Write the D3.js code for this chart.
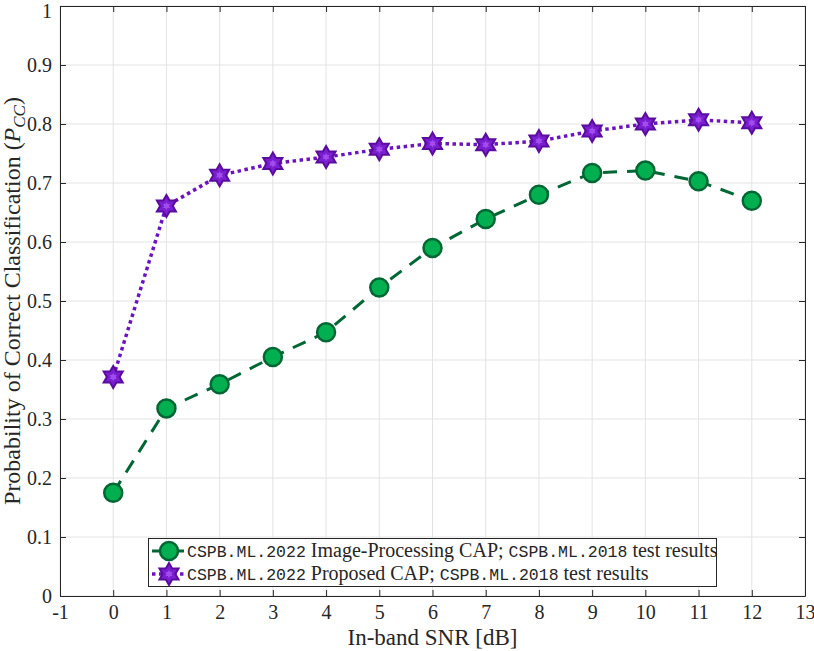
<!DOCTYPE html>
<html><head><meta charset="utf-8">
<script src="https://cdn.jsdelivr.net/npm/d3@7"></script>
<style>body{margin:0;background:#fff}</style>
</head><body>
<svg id="c" width="814" height="651"></svg>
<script>
const snr = [0,1,2,3,4,5,6,7,8,9,10,11,12];
const imageProc = [0.175,0.318,0.359,0.405,0.447,0.523,0.590,0.639,0.680,0.717,0.721,0.703,0.670];
const proposed = [0.371,0.661,0.713,0.733,0.744,0.757,0.767,0.765,0.771,0.788,0.800,0.807,0.802];
const xTicks = [-1,0,1,2,3,4,5,6,7,8,9,10,11,12,13];
const yTicks = [0,0.1,0.2,0.3,0.4,0.5,0.6,0.7,0.8,0.9,1];
const legendLabels = [
  [["CSPB.ML.2022","m"],[" Image-Processing CAP; ","s"],["CSPB.ML.2018","m"],[" test results","s"]],
  [["CSPB.ML.2022","m"],[" Proposed CAP; ","s"],["CSPB.ML.2018","m"],[" test results","s"]]
];

const svg = d3.select("#c");
const L=60, R=805, T=6, B=596;
const x = d3.scaleLinear().domain([-1,13]).range([L,R]);
const y = d3.scaleLinear().domain([0,1]).range([B,T]);
const serif = "'Liberation Serif','DejaVu Serif',serif";
const mono = "'Liberation Mono','DejaVu Sans Mono',monospace";

// grid
svg.append("g").selectAll("line").data(xTicks).join("line")
  .attr("x1",d=>x(d)).attr("x2",d=>x(d)).attr("y1",T).attr("y2",B)
  .attr("stroke","#e3e3e3").attr("stroke-width",1);
svg.append("g").selectAll("line").data(yTicks).join("line")
  .attr("y1",d=>y(d)).attr("y2",d=>y(d)).attr("x1",L).attr("x2",R)
  .attr("stroke","#e3e3e3").attr("stroke-width",1);

// axes
const ax = svg.append("g").attr("transform",`translate(0,${B})`)
  .call(d3.axisBottom(x).tickValues(xTicks).tickSizeInner(-6).tickSizeOuter(0).tickPadding(9).tickFormat(d=>String(d)));
const axT = svg.append("g").attr("transform",`translate(0,${T})`)
  .call(d3.axisTop(x).tickValues(xTicks).tickSizeInner(-6).tickSizeOuter(0).tickFormat(""));
const ay = svg.append("g").attr("transform",`translate(${L},0)`)
  .call(d3.axisLeft(y).tickValues(yTicks).tickSizeInner(-6).tickSizeOuter(0).tickPadding(8).tickFormat(d=>d===0||d===1?String(d):d3.format(".1f")(d)));
const ayR = svg.append("g").attr("transform",`translate(${R},0)`)
  .call(d3.axisRight(y).tickValues(yTicks).tickSizeInner(-6).tickSizeOuter(0).tickFormat(""));
[ax,axT,ay,ayR].forEach(g=>{
  g.selectAll("path").attr("stroke","#262626").attr("stroke-width",1);
  g.selectAll("line").attr("stroke","#262626");
  g.selectAll("text").attr("font-family",serif).attr("font-size",20).attr("fill","#262626");
});
ay.selectAll("text").filter(d=>d===1).attr("dy","0.55em");

// lines
const gLine = d3.line().x((d,i)=>x(snr[i])).y(d=>y(d));
svg.append("path").attr("d",gLine(imageProc)).attr("fill","none")
  .attr("stroke","#006633").attr("stroke-width",3).attr("stroke-dasharray","14,10");
svg.append("path").attr("d",gLine(proposed)).attr("fill","none")
  .attr("stroke","#6a14c0").attr("stroke-width",3.5).attr("stroke-dasharray","3.5,3.5");

// markers
const star = d3.symbol().type({draw(ctx,size){
  const r = Math.sqrt(size);
  const ri = r/Math.sqrt(3);
  for(let k=0;k<12;k++){
    const a = -Math.PI/2 + k*Math.PI/6;
    const rr = k%2===0? r: ri;
    const px = rr*Math.cos(a), py = rr*Math.sin(a);
    k===0?ctx.moveTo(px,py):ctx.lineTo(px,py);
  }
  ctx.closePath();
}});
function drawStar(g, cx, cy){
  g.append("path").attr("d",star.size(121)()).attr("transform",`translate(${cx},${cy})`)
    .attr("fill","#7a1fd0").attr("stroke","#5a0c9e").attr("stroke-width",2);
  g.append("path").attr("d",star.size(16)()).attr("transform",`translate(${cx},${cy})`)
    .attr("fill","#a24cf0").attr("stroke","none");
}
function drawCircle(g,cx,cy){
  g.append("circle").attr("cx",cx).attr("cy",cy).attr("r",9)
    .attr("fill","#00b050").attr("stroke","#006633").attr("stroke-width",2.5);
}
const gm = svg.append("g");
imageProc.forEach((v,i)=>drawCircle(gm,x(snr[i]),y(v)));
proposed.forEach((v,i)=>drawStar(gm,x(snr[i]),y(v)));

// labels
svg.append("text").attr("x",(L+R)/2).attr("y",645).attr("text-anchor","middle")
  .attr("font-family",serif).attr("font-size",23).attr("fill","#262626").text("In-band SNR [dB]");
const yl = svg.append("text").attr("transform",`translate(20,${(T+B)/2}) rotate(-90)`)
  .attr("text-anchor","middle").attr("font-family",serif).attr("font-size",24).attr("fill","#262626");
yl.append("tspan").text("Probability of Correct Classification (");
yl.append("tspan").attr("font-style","italic").text("P");
yl.append("tspan").attr("font-style","italic").attr("font-size",17).attr("dy",5).text("CC");
yl.append("tspan").attr("dy",-5).text(")");

// legend
const lg = svg.append("g");
lg.append("rect").attr("x",148.5).attr("y",538.5).attr("width",568).attr("height",48)
  .attr("fill","#fff").attr("stroke","#262626").attr("stroke-width",1);
const rows=[551,574];
lg.append("line").attr("x1",152).attr("x2",186).attr("y1",rows[0]).attr("y2",rows[0])
  .attr("stroke","#006633").attr("stroke-width",3).attr("stroke-dasharray","8,4");
drawCircle(lg,169,rows[0]);
lg.append("line").attr("x1",152).attr("x2",186).attr("y1",rows[1]).attr("y2",rows[1])
  .attr("stroke","#6a14c0").attr("stroke-width",3.5).attr("stroke-dasharray","3.5,3.5");
drawStar(lg,169,rows[1]);
legendLabels.forEach((parts,i)=>{
  const t = lg.append("text").attr("x",187).attr("y",rows[i]+6).attr("fill","#262626");
  parts.forEach(p=>t.append("tspan").attr("font-family",p[1]==="m"?mono:serif)
    .attr("font-size",p[1]==="m"?16.5:20).text(p[0]));
  t.style("white-space","pre");
});
</script>
</body></html>
